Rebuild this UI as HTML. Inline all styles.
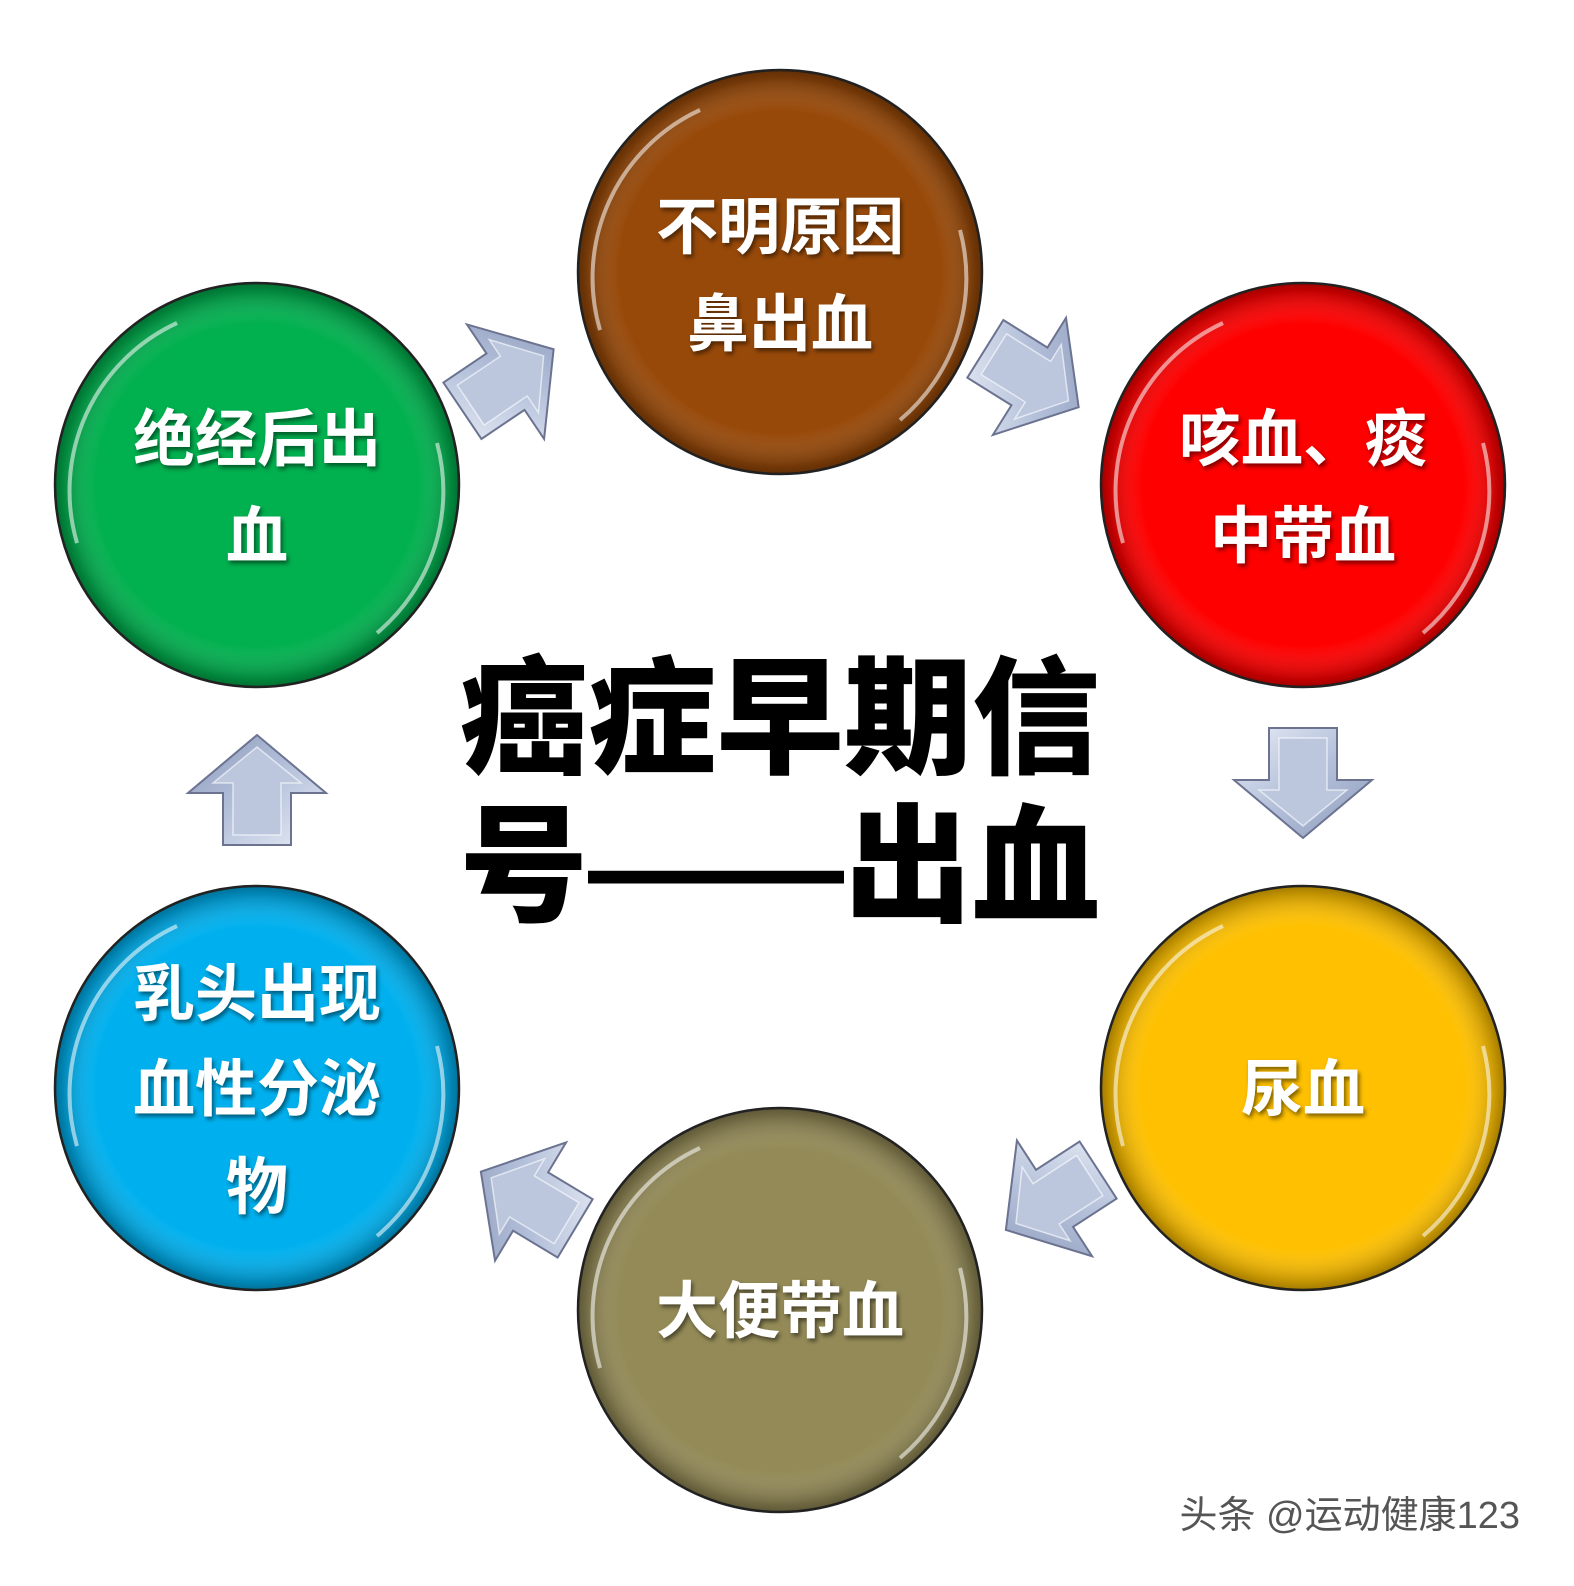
<!DOCTYPE html>
<html><head><meta charset="utf-8"><style>
html,body{margin:0;padding:0;background:#fff;overflow:hidden;width:1574px;height:1586px}
svg{display:block}
.c{font-family:"Liberation Sans","Noto Sans CJK SC",sans-serif;font-weight:bold;fill:#fff;font-size:62px;text-anchor:middle;dominant-baseline:central}
.t{font-family:"Liberation Sans","Noto Sans CJK SC",sans-serif;font-weight:900;fill:#000;font-size:128px;text-anchor:middle;dominant-baseline:central}
</style></head><body>
<svg width="1574" height="1586" viewBox="0 0 1574 1586" xmlns="http://www.w3.org/2000/svg">
<defs>
<radialGradient id="sh" cx="0.5" cy="0.5" r="0.5">
<stop offset="0.8" stop-color="#fff" stop-opacity="0"/>
<stop offset="0.97" stop-color="#000" stop-opacity="0.25"/>
<stop offset="1" stop-color="#000" stop-opacity="0.35"/>
</radialGradient>
<linearGradient id="ag" x1="0" y1="0" x2="1" y2="1">
<stop offset="0" stop-color="#e8edf6"/><stop offset="0.5" stop-color="#b4c0da"/><stop offset="1" stop-color="#8d9bbb"/>
</linearGradient>
<filter id="ds"><feDropShadow dx="2" dy="3" stdDeviation="2" flood-opacity="0.5"/></filter>
<g id="arr">
<path d="M-34,-55 L34,-55 L34,-3 L69,-3 L0,55 L-69,-3 L-34,-3 Z" fill="url(#ag)" stroke="#6b7390" stroke-width="2"/>
<path d="M-24,-45 L24,-45 L24,7 L44,7 L0,43 L-44,7 L-24,7 Z" fill="#bcc7de" stroke="#fff" stroke-opacity="0.6" stroke-width="1.5"/>
</g>
</defs>
<g stroke="#222" stroke-width="2.5">
<circle cx="780" cy="272" r="202" fill="#974909"/>
<circle cx="1303" cy="485" r="202" fill="#fe0000"/>
<circle cx="1303" cy="1088" r="202" fill="#fec000"/>
<circle cx="780" cy="1310" r="202" fill="#938a57"/>
<circle cx="257" cy="1088" r="202" fill="#00b0ee"/>
<circle cx="257" cy="485" r="202" fill="#01b04f"/>
</g>
<g fill="url(#sh)">
<circle cx="780" cy="272" r="201"/><circle cx="1303" cy="485" r="201"/><circle cx="1303" cy="1088" r="201"/>
<circle cx="780" cy="1310" r="201"/><circle cx="257" cy="1088" r="201"/><circle cx="257" cy="485" r="201"/>
</g>
<g fill="none" stroke="#fff" stroke-opacity="0.55" stroke-width="4">
<path d="M600,330 A185,185 0 0 1 700,110"/><path d="M960,230 A185,185 0 0 1 900,420"/>
<path d="M1123,543 A185,185 0 0 1 1223,323"/><path d="M1483,443 A185,185 0 0 1 1423,633"/>
<path d="M1123,1146 A185,185 0 0 1 1223,926"/><path d="M1483,1046 A185,185 0 0 1 1423,1236"/>
<path d="M600,1368 A185,185 0 0 1 700,1148"/><path d="M960,1268 A185,185 0 0 1 900,1458"/>
<path d="M77,1146 A185,185 0 0 1 177,926"/><path d="M437,1046 A185,185 0 0 1 377,1236"/>
<path d="M77,543 A185,185 0 0 1 177,323"/><path d="M437,443 A185,185 0 0 1 377,633"/>
</g>
<g filter="url(#ds)">
<text class="c" x="780" y="228">不明原因</text><text class="c" x="780" y="325">鼻出血</text>
<text class="c" x="1303" y="440">咳血、痰</text><text class="c" x="1303" y="537">中带血</text>
<text class="c" x="1303" y="1090">尿血</text>
<text class="c" x="780" y="1312">大便带血</text>
<text class="c" x="257" y="995">乳头出现</text><text class="c" x="257" y="1090">血性分泌</text><text class="c" x="257" y="1188">物</text>
<text class="c" x="257" y="440">绝经后出</text><text class="c" x="257" y="537">血</text>
</g>
<use href="#arr" transform="translate(508,380) rotate(-124)"/>
<use href="#arr" transform="translate(1032,378) rotate(-58)"/>
<use href="#arr" transform="translate(1303,783)"/>
<use href="#arr" transform="translate(1052,1200) rotate(57)"/>
<use href="#arr" transform="translate(528,1200) rotate(121)"/>
<use href="#arr" transform="translate(257,790) rotate(180)"/>
<text class="t" x="780" y="720">癌症早期信</text>
<text class="t" x="780" y="868">号——出血</text>
<text x="1520" y="1516" text-anchor="end" dominant-baseline="central" font-family="'Liberation Sans','Noto Sans CJK SC',sans-serif" font-size="38" fill="#555" stroke="#fff" stroke-width="1" paint-order="stroke">头条 @运动健康123</text>
</svg>
</body></html>
